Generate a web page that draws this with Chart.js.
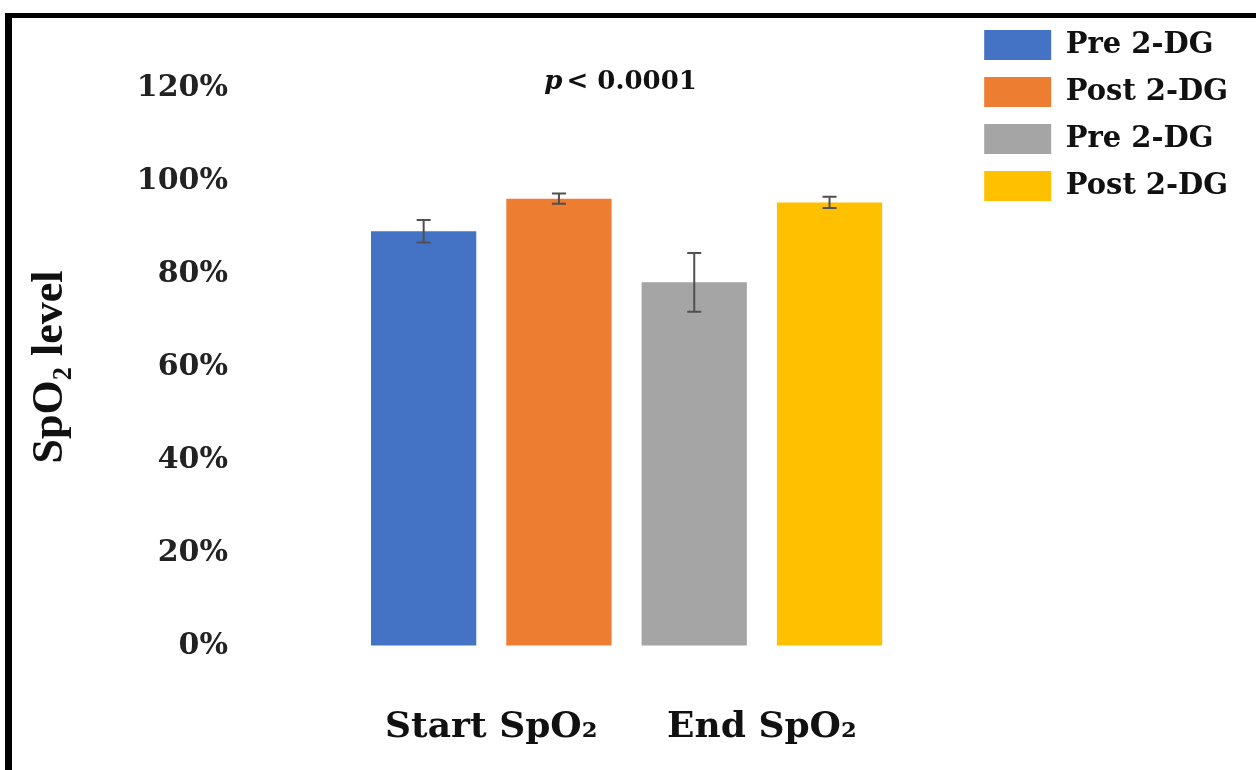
<!DOCTYPE html>
<html lang="en">
<head>
<meta charset="UTF-8">
<title>SpO2 level - Pre / Post 2-DG</title>
<script src="https://cdn.jsdelivr.net/npm/chart.js"></script>
<style>
  html, body { margin: 0; padding: 0; background: #fff; }
  #wrap { position: relative; width: 1256px; height: 770px; overflow: hidden; }
  #frame { position: absolute; left: 5px; top: 13px; right: -10px; bottom: -10px;
           border-top: 5px solid #000; border-left: 7px solid #000; pointer-events: none; }
  canvas { position: absolute; left: 0; top: 0; }
</style>
</head>
<body>
<div id="wrap">
  <canvas id="grafico" width="1256" height="770"></canvas>
  <div id="frame"></div>
</div>

<script>
// categorias e series
const categorias = ['Start SpO\u2082', 'End SpO\u2082'];
const nomesSeries = ['Pre 2-DG', 'Post 2-DG', 'Pre 2-DG', 'Post 2-DG'];
const cores = ['#4472C4', '#ED7D31', '#A5A5A5', '#FFC000'];

const preStart = [89.2, null];
const postStart = [96.2, null];
const preEnd = [null, 78.2];
const postEnd = [null, 95.4];

// erro (+/-) de cada barra
const errPreStart = [2.4, null];
const errPostStart = [1.1, null];
const errPreEnd = [null, 6.3];
const errPostEnd = [null, 1.2];

const yTicks = [0, 20, 40, 60, 80, 100, 120];
const textoP = ['p', '< 0.0001'];

const serie = [preStart, postStart, preEnd, postEnd];
const erros = [errPreStart, errPostStart, errPreEnd, errPostEnd];

const fonte = "'DejaVu Serif', serif";
const invisivel = 'rgba(0,0,0,0)';

// barras de erro
const barrasErro = {
  id: 'barrasErro',
  afterDatasetsDraw(chart) {
    const ctx = chart.ctx;
    const y = chart.scales.y;
    ctx.save();
    ctx.strokeStyle = '#505050';
    ctx.lineWidth = 2;
    chart.data.datasets.forEach((ds, i) => {
      const meta = chart.getDatasetMeta(i);
      meta.data.forEach((bar, j) => {
        const v = ds.data[j];
        const e = erros[i][j];
        if (v == null || e == null) return;
        const yt = y.getPixelForValue(v + e);
        const yb = y.getPixelForValue(v - e);
        ctx.beginPath();
        ctx.moveTo(bar.x, yt); ctx.lineTo(bar.x, yb);
        ctx.moveTo(bar.x - 7, yt); ctx.lineTo(bar.x + 7, yt);
        ctx.moveTo(bar.x - 7, yb); ctx.lineTo(bar.x + 7, yb);
        ctx.stroke();
      });
    });
    ctx.restore();
  }
};

// texto do valor p (p em italico)
const valorP = {
  id: 'valorP',
  afterDraw(chart) {
    const ctx = chart.ctx;
    const area = chart.chartArea;
    const yy = chart.scales.y.getPixelForValue(120) - 6;
    ctx.save();
    ctx.fillStyle = '#111';
    ctx.textBaseline = 'middle';
    ctx.font = "italic bold 26px " + fonte;
    const w1 = ctx.measureText(textoP[0]).width;
    ctx.font = "bold 26px " + fonte;
    const w2 = ctx.measureText(textoP[1]).width;
    const gap = 4;
    let x = (area.left + area.right) / 2 - 6 - (w1 + gap + w2) / 2;
    ctx.font = "italic bold 26px " + fonte;
    ctx.fillText(textoP[0], x, yy);
    ctx.font = "bold 26px " + fonte;
    ctx.fillText(textoP[1], x + w1 + gap, yy);
    ctx.restore();
  }
};

const dados = {
  labels: categorias,
  datasets: serie.map((d, i) => ({
    label: nomesSeries[i],
    data: d,
    backgroundColor: cores[i],
    borderWidth: 0,
    skipNull: true,
    categoryPercentage: 1.0,
    barPercentage: 0.778
  }))
};

const config = {
  type: 'bar',
  data: dados,
  options: {
    responsive: false,
    animation: false,
    devicePixelRatio: 1,
    layout: { padding: { top: 13, left: 14, right: 18, bottom: 20 } },
    plugins: {
      title: { display: true, text: ' ', font: { size: 20, lineHeight: 1 }, padding: { top: 55, bottom: 0 } },
      tooltip: { enabled: false },
      legend: {
        position: 'right',
        align: 'start',
        maxWidth: 320,
        labels: {
          boxWidth: 67,
          boxHeight: 30,
          padding: 17,
          color: '#111',
          font: { family: fonte, weight: 'bold', size: 29 }
        }
      }
    },
    scales: {
      x: {
        grid: { display: true, drawOnChartArea: false, drawTicks: true, tickLength: 60, color: invisivel },
        border: { display: false },
        ticks: { color: '#111', padding: 0, font: { family: fonte, weight: 'bold', size: 36 } },
        afterFit: s => { s.height = 104; }
      },
      y: {
        min: 0,
        max: 120,
        afterBuildTicks: s => { s.ticks = yTicks.map(v => ({ value: v })); },
        grid: { display: true, drawOnChartArea: false, drawTicks: true, tickLength: 124, color: invisivel },
        border: { display: false },
        ticks: {
          color: '#222',
          padding: 4,
          font: { family: fonte, weight: 'bold', size: 30 },
          callback: v => v + '%'
        },
        title: {
          display: true,
          text: 'SpO\u2082 level',
          color: '#111',
          padding: { top: 10 },
          font: { family: "'Liberation Serif', serif", weight: 'bold', size: 44 }
        },
        afterFit: s => { s.width = 342; }
      },
      y2: {
        position: 'right',
        display: true,
        grid: { display: false, drawTicks: false },
        border: { display: false },
        ticks: { display: false },
        afterFit: s => { s.width = 70; }
      }
    }
  },
  plugins: [barrasErro, valorP]
};

new Chart(document.getElementById('grafico'), config);
</script>
</body>
</html>
